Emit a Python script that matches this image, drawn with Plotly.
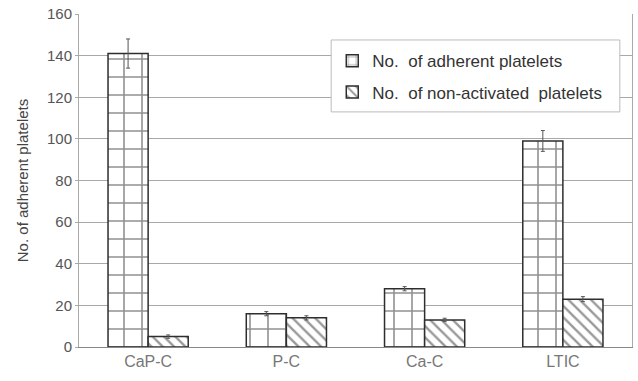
import plotly.graph_objects as go

# Data
categories = ["CaP-C", "P-C", "Ca-C", "LTIC"]
adherent = [141, 16, 28, 99]
adherent_err = [7, 1, 1, 5]
non_activated = [5, 14, 13, 23]
non_activated_err = [0.8, 1, 0.8, 1.2]
y_ticks = [0, 20, 40, 60, 80, 100, 120, 140, 160]

edge = "#2e2e2e"

fig = go.Figure()
fig.add_trace(go.Bar(
    name="No.  of adherent platelets", legendgroup="a",
    x=categories, y=adherent,
    error_y=dict(type="data", array=adherent_err, visible=True,
                 color="#555", thickness=1, width=2),
    marker=dict(color="white",
                line=dict(color=edge, width=1.5),
                pattern=dict(shape="+", size=18, solidity=0.17,
                             fgcolor="#222", bgcolor="white")),
))
fig.add_trace(go.Bar(
    name="No.  of non-activated  platelets", legendgroup="b",
    x=categories, y=non_activated,
    error_y=dict(type="data", array=non_activated_err, visible=True,
                 color="#555", thickness=1, width=2),
    marker=dict(color="white",
                line=dict(color=edge, width=1.5),
                pattern=dict(shape="\\", size=8, solidity=0.3,
                             fgcolor="#333", bgcolor="white")),
))

# Legend frame (drawn as a shape so it can be sized freely)
fig.add_shape(type="rect", xref="paper", yref="paper",
              x0=0.456, x1=0.978, y0=0.706, y1=0.922,
              line=dict(color="#bbb", width=1), fillcolor="white",
              layer="above")

fig.update_layout(
    width=638, height=381,
    margin=dict(l=79, r=6, t=14, b=34),
    paper_bgcolor="white", plot_bgcolor="white",
    barmode="group", bargap=0.42, bargroupgap=0,
    font=dict(family="Liberation Sans, Arial, sans-serif", size=15, color="#444"),
    showlegend=True,
    legend=dict(x=0.458, y=0.912, xanchor="left", yanchor="top",
                bgcolor="rgba(0,0,0,0)", borderwidth=0,
                font=dict(size=17, color="#333"),
                traceorder="grouped", tracegroupgap=6, itemwidth=30),
    xaxis=dict(showgrid=False, showline=True, linecolor="#888", linewidth=1,
               ticks="", tickfont=dict(size=16, color="#777")),
    yaxis=dict(range=[0, 160], tickvals=y_ticks, showgrid=True,
               gridcolor="#a8a8a8", gridwidth=1, zeroline=False,
               showline=True, linecolor="#aaa", linewidth=1, mirror=True,
               ticks="outside", ticklen=3, tickcolor="#aaa",
               tickfont=dict(size=15, color="#555"),
               title=dict(text="No. of adherent platelets",
                          font=dict(size=15, color="#444"), standoff=14)),
)

fig.write_html("out.html")
